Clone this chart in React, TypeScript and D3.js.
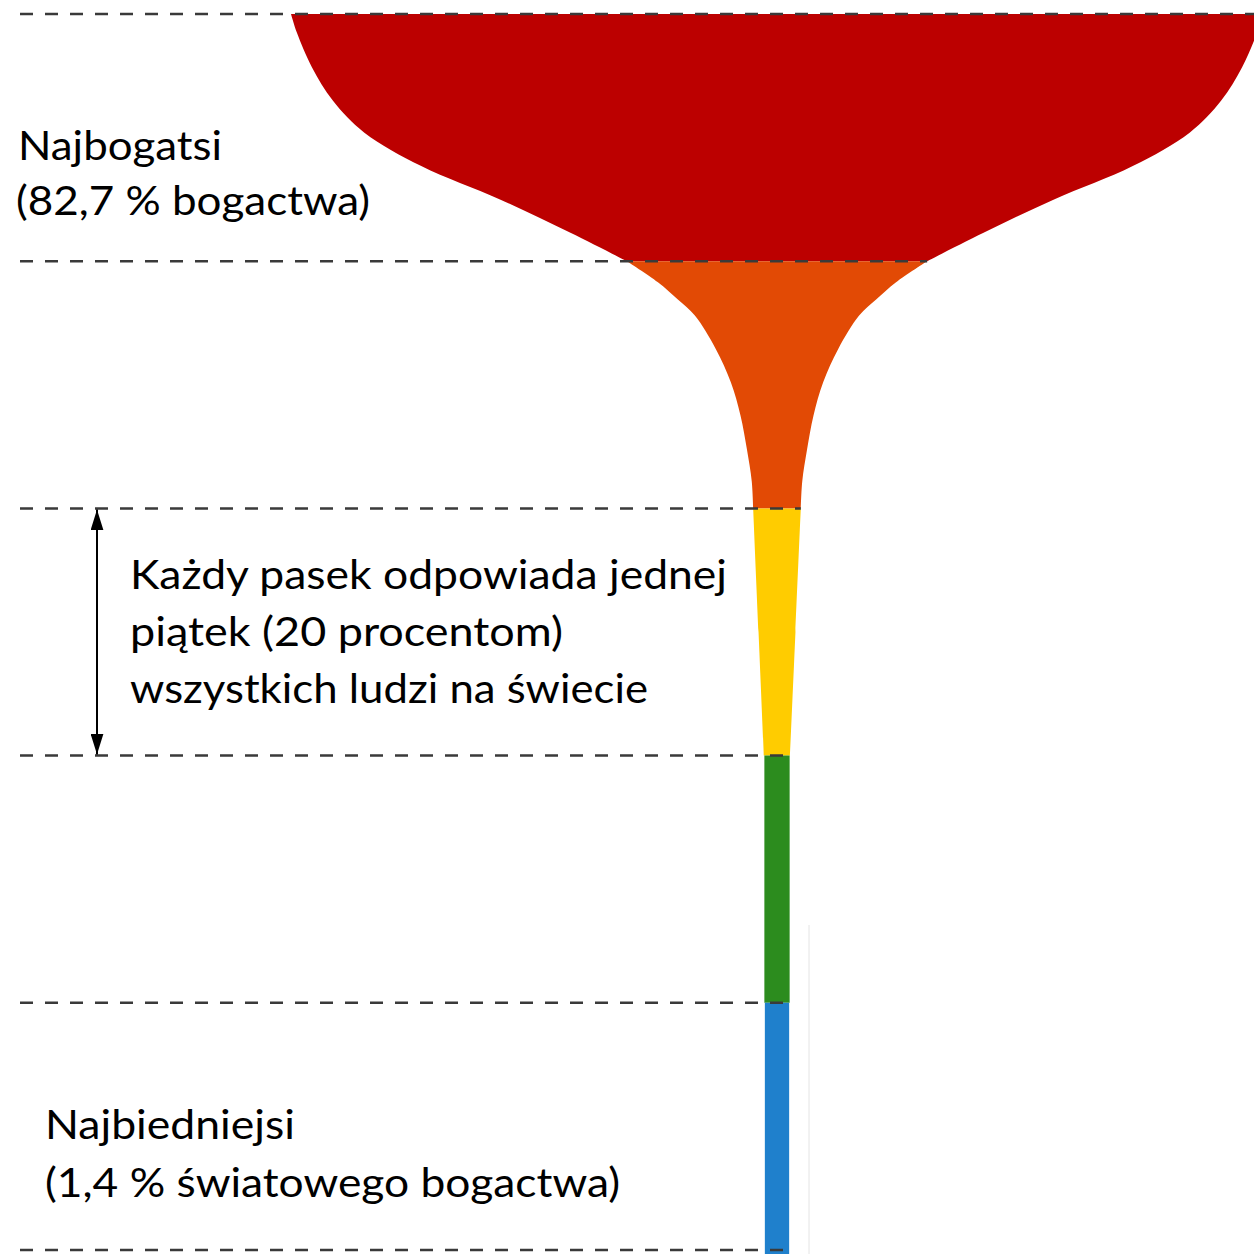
import * as d3 from "d3";

// population percentile (0 = richest, 100 = poorest) -> relative width of the glass
const quintiles = ["Najbogatsi", "Drugi", "Trzeci", "Czwarty", "Najbiedniejsi"];
const wealthShare = [82.7, 11.7, 2.3, 1.9, 1.4];
const bandColors = ["#BC0000", "#E24A05", "#FFCC00", "#2C8C1E", "#1F80CC"];

const redProfile = [
  [0, 100], [1.5, 98.8], [4.3, 95.7], [7, 91.4], [9.6, 84.9], [12.3, 73.2],
  [15, 57], [17.7, 42.5], [20, 30.9],
];
const orangeProfile = [
  [20, 30.9], [21.7, 24.5], [23.1, 20.4], [24.4, 16.9], [27.1, 12.6],
  [29.8, 9.5], [32.5, 7.5], [35.2, 6.2], [37.8, 5.2], [40, 4.9],
];
const yellowProfile = [[40, 4.9], [50, 3.8], [60, 2.7]];
const greenProfile = [[60, 2.6], [80, 2.6]];
const blueProfile = [[80, 2.5], [100, 2.5]];
const profiles = [redProfile, orangeProfile, yellowProfile, greenProfile, blueProfile];

const boundaries = [0, 20, 40, 60, 80, 100];

const noteLines = ["Każdy pasek odpowiada jednej", "piątek (20 procentom)", "wszystkich ludzi na świecie"];

const fmt = (v: number) => v.toFixed(1).replace(".", ",");

const W = 1254;
const H = 1254;
const cx = 777;

export default function App() {
  const y = d3.scaleLinear().domain([0, 100]).range([14, 1250]);
  const x = d3.scaleLinear().domain([0, 100]).range([0, 486]);

  const area = d3
    .area<number[]>()
    .y((d) => y(d[0]))
    .x0((d) => cx - x(d[1]))
    .x1((d) => cx + x(d[1]))
    .curve(d3.curveCatmullRom.alpha(0.5));

  // last band runs off the bottom edge
  const bands = profiles.map((p, i) =>
    i === profiles.length - 1 ? [...p, [y.invert(H), p[p.length - 1][1]]] : p
  );

  const widthAt = (b: number) => {
    const i = b / 20;
    if (i >= profiles.length) {
      const p = profiles[profiles.length - 1];
      return p[p.length - 1][1];
    }
    return profiles[i][0][1];
  };

  const font = "Lato, 'Open Sans', sans-serif";
  const fs = 41;

  return (
    <svg
      width={W}
      height={H}
      style={{ position: "absolute", left: 0, top: 0, display: "block", background: "#fff" }}
    >
      <defs>
        <marker
          id="ahs"
          viewBox="0 0 10 10"
          refX="10"
          refY="5"
          markerWidth="21"
          markerHeight="13"
          markerUnits="userSpaceOnUse"
          preserveAspectRatio="none"
          orient="auto-start-reverse"
        >
          <path d="M0,0 L10,5 L0,10 Z" fill="#000" />
        </marker>
      </defs>

      <line x1={809} x2={809} y1={925} y2={H} stroke="#e4e4e4" strokeWidth={1} />

      {bands.map((p, i) => (
        <path key={quintiles[i]} d={area(p) || ""} fill={bandColors[i]} />
      ))}

      {boundaries.map((b) => (
        <line
          key={b}
          x1={20}
          x2={Math.min(W, cx + x(widthAt(b)))}
          y1={y(b)}
          y2={y(b)}
          stroke="#3a3a3a"
          strokeWidth={2.5}
          strokeDasharray="13 12"
        />
      ))}

      <line
        x1={97}
        x2={97}
        y1={y(40) + 1}
        y2={y(60) - 1}
        stroke="#000"
        strokeWidth={2}
        markerStart="url(#ahs)"
        markerEnd="url(#ahs)"
      />

      <g fontFamily={font} fontSize={fs} fill="#000">
        <text x={18} y={160} textLength={204} lengthAdjust="spacingAndGlyphs">{quintiles[0]}</text>
        <text x={16} y={215} textLength={354} lengthAdjust="spacingAndGlyphs">
          {`(${fmt(wealthShare[0])} % bogactwa)`}
        </text>

        {noteLines.map((t, i) => (
          <text key={t} x={130} y={589 + i * 57} textLength={[597, 433, 518][i]} lengthAdjust="spacingAndGlyphs">
            {t}
          </text>
        ))}

        <text x={45} y={1139} textLength={250} lengthAdjust="spacingAndGlyphs">{quintiles[4]}</text>
        <text x={45} y={1197} textLength={575} lengthAdjust="spacingAndGlyphs">
          {`(${fmt(wealthShare[4])} % światowego bogactwa)`}
        </text>
      </g>
    </svg>
  );
}
